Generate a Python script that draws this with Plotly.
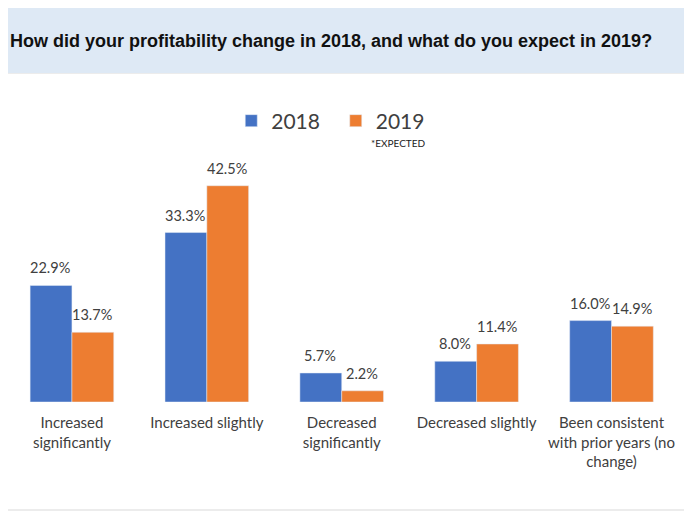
import plotly.graph_objects as go

CATEGORIES = [
    "Increased<br>significantly",
    "Increased slightly",
    "Decreased<br>significantly",
    "Decreased slightly",
    "Been consistent<br>with prior years (no<br>change)",
]
VALUES_2018 = [22.9, 33.3, 5.7, 8.0, 16.0]
VALUES_2019 = [13.7, 42.5, 2.2, 11.4, 14.9]
SERIES_NAMES = ["2018", "2019"]

BLUE = "#4472C4"
ORANGE = "#ED7D31"
TEXT = "#404040"
FONT = "Lato"

# the page body has an 8px margin, so the figure is a bit smaller and
# everything is placed 8px up/left of where it sits in the screenshot
OFF = 8
W, H = 692 - OFF, 517 - OFF
L, R, T, B = 0, 13.5, 165, 115
PW, PH = W - L - R, H - T - B


def px(x):
    return (x - OFF - L) / PW


def py(y):
    return (H - B - (y - OFF)) / PH


fig = go.Figure()
series = [
    (SERIES_NAMES[0] + "\u00a0\u00a0", VALUES_2018, BLUE, -21),
    (SERIES_NAMES[1], VALUES_2019, ORANGE, 21),
]
for name, vals, col, _ in series:
    fig.add_trace(go.Bar(x=CATEGORIES, y=vals, name=name, marker_color=col,
                         hoverinfo="x+y"))

# value labels, a bit above the bars like the original
annotations = []
for name, vals, col, shift in series:
    for cat, v in zip(CATEGORIES, vals):
        annotations.append(dict(
            x=cat, y=v, text=f"{v:.1f}%", showarrow=False,
            xshift=shift - 1, yshift=7, yanchor="bottom",
            font=dict(size=14.5, family=FONT, color=TEXT),
        ))

annotations += [
    dict(text="<b>How did your profitability change in 2018, and what do you expect in 2019?</b>",
         xref="paper", yref="paper", x=px(8), y=py(41), xanchor="left", yanchor="middle",
         showarrow=False, font=dict(size=18, family="Liberation Sans", color="#111")),
    dict(text="*EXPECTED", xref="paper", yref="paper", x=px(369), y=py(143),
         xanchor="left", yanchor="middle", showarrow=False,
         font=dict(size=10, family=FONT, color="#222")),
]

fig.update_layout(
    width=W, height=H,
    margin=dict(l=L, r=R, t=T, b=B, autoexpand=False),
    paper_bgcolor="white", plot_bgcolor="white",
    barmode="group", bargap=0.38, bargroupgap=0,
    font=dict(family=FONT, color=TEXT),
    showlegend=True,
    legend=dict(
        orientation="h", x=px(331), xanchor="center", y=py(121), yanchor="middle",
        font=dict(size=21, family=FONT, color=TEXT),
        traceorder="normal",
    ),
    shapes=[
        dict(type="rect", xref="paper", yref="paper",
             x0=px(4), x1=px(687), y0=py(73), y1=py(510),
             line=dict(color="#d9d9d9", width=1), fillcolor="rgba(0,0,0,0)", layer="below"),
        dict(type="rect", xref="paper", yref="paper",
             x0=px(0), x1=px(688), y0=py(0), y1=py(73),
             line=dict(width=0), fillcolor="#DEE9F5", layer="below"),
    ],
    annotations=annotations,
)
fig.update_xaxes(showgrid=False, showline=False, ticks="", automargin=False,
                 range=[-0.474, 4.493], ticklabelstandoff=10,
                 tickfont=dict(size=15, family=FONT, color=TEXT))
fig.update_yaxes(range=[0, 45], visible=False, automargin=False)

fig.write_html("out.html")
